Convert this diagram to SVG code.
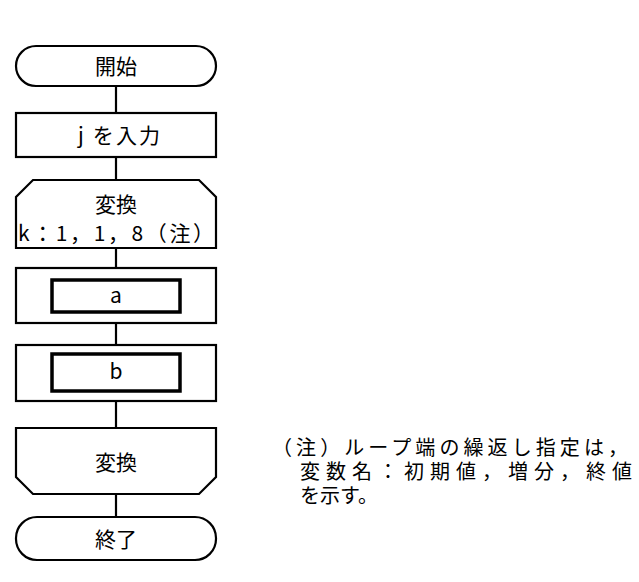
<svg xmlns="http://www.w3.org/2000/svg" width="639" height="582" viewBox="0 0 639 582">
<style>
.s{fill:#fff;stroke:#000;stroke-width:2.2}
.i{fill:none;stroke:#000;stroke-width:3.5}
.l{stroke:#000;stroke-width:2.2;fill:none}
text{font-family:"Noto Sans CJK JP","Liberation Sans",sans-serif;font-size:21px;fill:#000}
.n{font-size:20px}
.c{text-anchor:middle}
</style>
<g id="connectors">
<line class="l" x1="116" y1="86" x2="116" y2="517"/>
</g>
<g id="start"><rect class="s" x="16" y="46" width="200" height="40" rx="20"/><text class="c" x="116" y="74">開始</text></g>
<g id="input"><rect class="s" x="16" y="113" width="200" height="44"/><text x="78" y="143" textLength="82" lengthAdjust="spacing">j を入力</text></g>
<g id="loopstart"><path class="s" d="M33,180 H199 L216,197 V248 H16 V197 Z"/><text class="c" x="116" y="212">変換</text><text x="18" y="241" textLength="196" lengthAdjust="spacing">k：1，1，8（注）</text></g>
<g id="a"><rect class="s" x="16" y="268" width="200" height="55"/><rect class="i" x="52" y="280" width="128" height="32"/><text class="c" x="116" y="303">a</text></g>
<g id="b"><rect class="s" x="16" y="345" width="200" height="56"/><rect class="i" x="52" y="354" width="128" height="37"/><text class="c" x="116" y="379">b</text></g>
<g id="loopend"><path class="s" d="M16,428 H216 V477 L199,494 H33 L16,477 Z"/><text class="c" x="116" y="470">変換</text></g>
<g id="end"><rect class="s" x="16" y="517" width="200" height="43" rx="21"/><text class="c" x="116" y="547">終了</text></g>
<g id="note">
<text class="n" x="272" y="455" textLength="356" lengthAdjust="spacing">（注）ループ端の繰返し指定は，</text>
<text class="n" x="300" y="479" textLength="332" lengthAdjust="spacing">変数名：初期値，増分，終値</text>
<text class="n" x="300" y="503">を示す。</text>
</g>
</svg>
